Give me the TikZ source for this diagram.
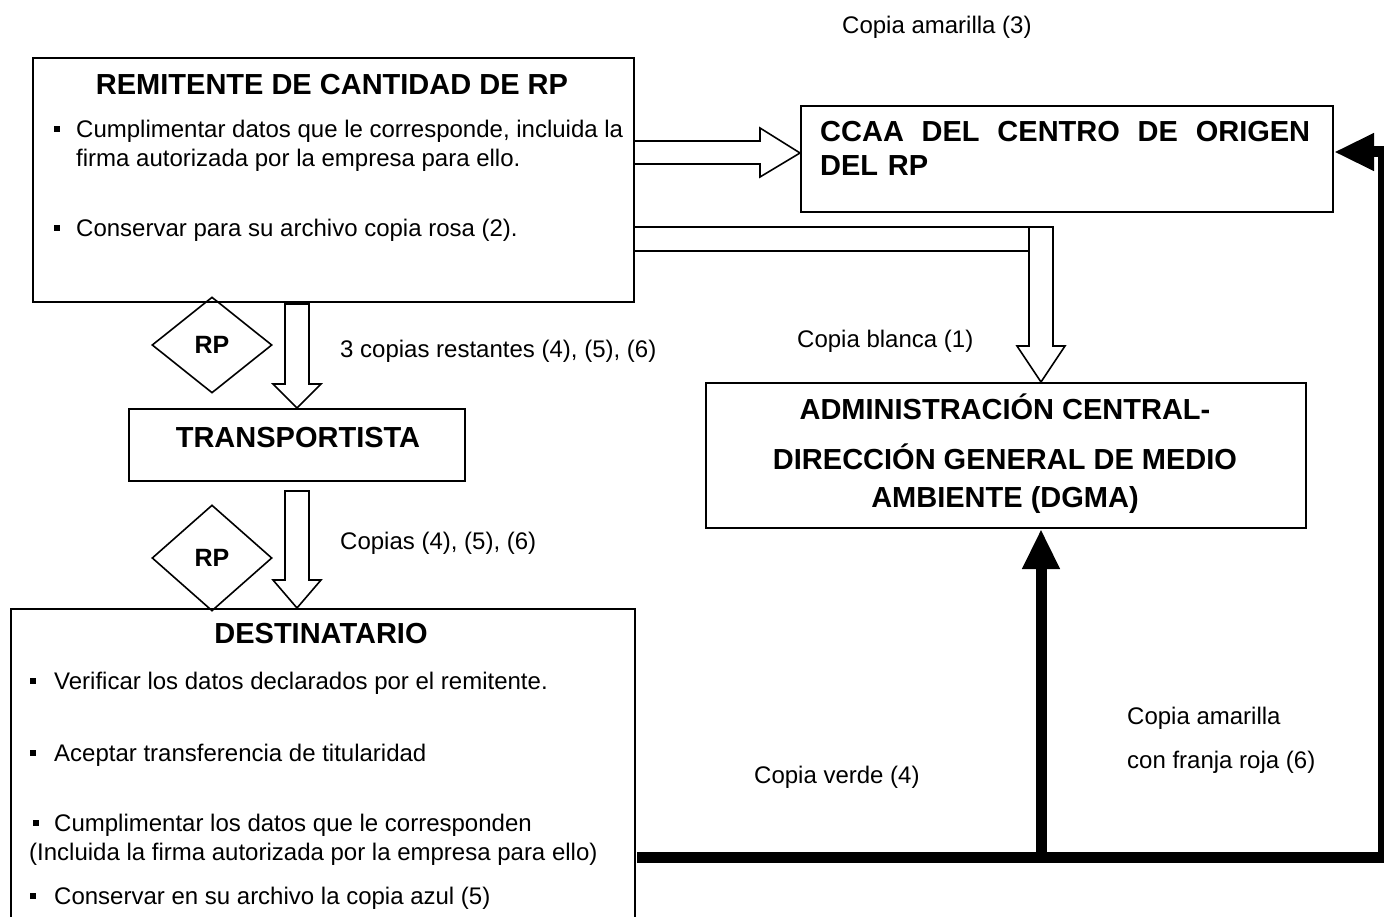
\documentclass[tikz,border=0pt]{standalone}
\usepackage{fontspec}
\setmainfont{Liberation Sans}
\usetikzlibrary{shapes.geometric,arrows.meta}
\newcommand\bul{\rule[5.5pt]{6pt}{6pt}}
\newcommand\bodyfont{\fontsize{24}{29}\selectfont}
\newcommand\headfont{\fontsize{29}{34}\selectfont\bfseries}
\begin{document}
\begin{tikzpicture}[x=1pt,y=-1pt,
  box/.style={draw, line width=2pt, inner sep=0pt, anchor=north west},
  lbl/.style={inner sep=0pt, anchor=base west, font=\bodyfont},
  head/.style={inner sep=0pt, anchor=base, font=\headfont},
  blockarrow/.style={draw, line width=1.6pt, fill=white, line join=miter},
  heavy/.style={line width=11pt, line join=miter, -{Triangle[length=40pt,width=35pt]}},
  rp/.style={diamond, draw, line width=1.6pt, inner sep=0pt, minimum width=120pt, minimum height=96pt, font=\fontsize{25}{30}\selectfont\bfseries}]
\useasboundingbox (0,0) rectangle (1384,917);
\clip (0,0) rectangle (1384,917);

% boxes
\node[box, minimum width=601pt, minimum height=244pt] (rem) at (32,57) {};
\node[box, minimum width=532pt, minimum height=106pt] (ccaa) at (800,105) {};
\node[box, minimum width=600pt, minimum height=145pt] (dgma) at (705,382) {};
\node[box, minimum width=336pt, minimum height=72pt] (trans) at (128,408) {};
\node[box, minimum width=624pt, minimum height=340pt] (dest) at (10,608) {};

% box texts
\node[head] (remt) at (332,95) {REMITENTE DE CANTIDAD DE RP};
\node[lbl, align=left] (remb1) at (76,167) {\llap{\bul\hspace{16pt}}Cumplimentar datos que le corresponde, incluida la\\firma autorizada por la empresa para ello.};
\node[lbl] (remb2) at (76,237) {\llap{\bul\hspace{16pt}}Conservar para su archivo copia rosa (2).};

\node[head, anchor=base west, align=left, text width=490pt] (ccaat) at (820,142) {CCAA\hfill DEL\hfill CENTRO\hfill DE\hfill ORIGEN\\DEL RP};

\node[head, align=center, font=\fontsize{29}{38}\selectfont\bfseries] (dgmat) at (1005,507) {ADMINISTRACIÓN CENTRAL-\\[12pt]DIRECCIÓN GENERAL DE MEDIO\\AMBIENTE (DGMA)};

\node[head] (transt) at (298,447) {TRANSPORTISTA};
\node[head] (destt) at (321,643) {DESTINATARIO};

\node[lbl] (d1) at (54,689) {\llap{\bul\hspace{18pt}}Verificar los datos declarados por el remitente.};
\node[lbl] (d2) at (54,761) {\llap{\bul\hspace{18pt}}Aceptar transferencia de titularidad};
\node[lbl, align=left] (d3) at (29,860) {\hspace*{25pt}\llap{\bul\hspace{15pt}}Cumplimentar los datos que le corresponden\\(Incluida la firma autorizada por la empresa para ello)};
\node[lbl] (d4) at (54,904) {\llap{\bul\hspace{18pt}}Conservar en su archivo la copia azul (5)};

% diamonds
\node[rp] (rp1) at (212,345) {RP};
\node[rp, minimum height=106pt] (rp2) at (212,558) {RP};

% labels
\node[lbl] (l3) at (842,34) {Copia amarilla (3)};
\node[lbl] (lrest) at (340,357) {3 copias restantes (4), (5), (6)};
\node[lbl] (lcop) at (340,549) {Copias (4), (5), (6)};
\node[lbl] (l1) at (797,348) {Copia blanca (1)};
\node[lbl] (l4) at (754,783) {Copia verde (4)};
\node[lbl, align=left, font=\fontsize{24}{44}\selectfont] (l6) at (1127,768) {Copia amarilla\\con franja roja (6)};

% block arrows
\draw[blockarrow] (285,304) -- (309,304) -- (309,384) -- (321,384) -- (297,0 |- trans.north) -- (273,384) -- (285,384) -- cycle;
\draw[blockarrow] (285,491) -- (309,491) -- (309,580) -- (321,580) -- (297,0 |- dest.north) -- (273,580) -- (285,580) -- cycle;
\draw[blockarrow, fill=none] (rem.east |- 0,141) -- (760,141) -- (760,128) -- (ccaa.west |- 0,153) -- (760,177) -- (760,164) -- (rem.east |- 0,164);
\draw[blockarrow] (1029,227) -- (1053,227) -- (1053,346) -- (1065,346) -- (1041,0 |- dgma.north) -- (1017,346) -- (1029,346) -- cycle;
\draw[blockarrow] (rem.east |- 0,227) -- (1029,227);
\draw[blockarrow] (rem.east |- 0,251) -- (1029,251);

% heavy connectors
\coordinate (s) at (637,857);
\coordinate (j) at (1041,857);
\coordinate (c) at (1383,857);
\coordinate (u) at (1383,152);
\draw[heavy] (s) -- (c) -- (u) -- (u -| ccaa.east);
\draw[heavy] (j) -- (j |- dgma.south);
\end{tikzpicture}
\end{document}
